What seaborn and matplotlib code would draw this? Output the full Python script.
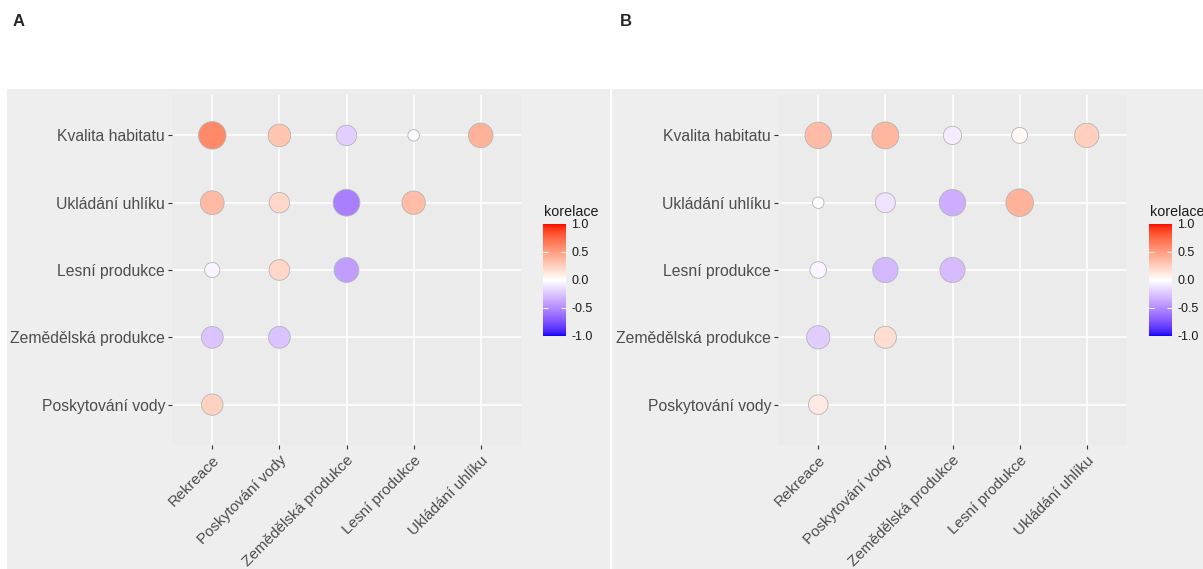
import numpy as np
import pandas as pd
import seaborn as sns
import matplotlib.pyplot as plt
from matplotlib.colors import ListedColormap, Normalize
from matplotlib.cm import ScalarMappable
from matplotlib.patches import Rectangle

# categories (y listed bottom -> top)
x_order = ["Rekreace", "Poskytování vody", "Zemědělská produkce", "Lesní produkce", "Ukládání uhlíku"]
y_order = ["Poskytování vody", "Zemědělská produkce", "Lesní produkce", "Ukládání uhlíku", "Kvalita habitatu"]

pair_x = ["Rekreace", "Poskytování vody", "Zemědělská produkce", "Lesní produkce", "Ukládání uhlíku",
          "Rekreace", "Poskytování vody", "Zemědělská produkce", "Lesní produkce",
          "Rekreace", "Poskytování vody", "Zemědělská produkce",
          "Rekreace", "Poskytování vody",
          "Rekreace"]
pair_y = ["Kvalita habitatu"] * 5 + ["Ukládání uhlíku"] * 4 + ["Lesní produkce"] * 3 + \
         ["Zemědělská produkce"] * 2 + ["Poskytování vody"]

corr_a = [0.60, 0.30, -0.20, -0.02, 0.40,
          0.36, 0.20, -0.55, 0.34,
          -0.05, 0.21, -0.42,
          -0.26, -0.26,
          0.24]
corr_b = [0.35, 0.37, -0.08, 0.04, 0.26,
          0.01, -0.12, -0.35, 0.40,
          -0.05, -0.30, -0.29,
          -0.22, 0.18,
          0.11]

W, H = 1203, 569


def lab_to_rgb(L, a, b):
    fy = (L + 16) / 116
    fx = fy + a / 500
    fz = fy - b / 200

    def finv(t):
        return np.where(t > 6 / 29, t ** 3, 3 * (6 / 29) ** 2 * (t - 4 / 29))

    X, Y, Z = 0.95047 * finv(fx), finv(fy), 1.08883 * finv(fz)
    r = 3.2406 * X - 1.5372 * Y - 0.4986 * Z
    g = -0.9689 * X + 1.8758 * Y + 0.0415 * Z
    bb = 0.0557 * X - 0.2040 * Y + 1.0570 * Z
    rgb = np.clip(np.stack([r, g, bb], axis=-1), 0, 1)
    return np.where(rgb <= 0.0031308, 12.92 * rgb, 1.055 * rgb ** (1 / 2.4) - 0.055)


# blue - white - red, interpolated in Lab like ggplot's gradient2
lab_blue = np.array([32.30, 79.19, -107.86])
lab_white = np.array([100.0, 0.0, 0.0])
lab_red = np.array([53.24, 80.09, 67.20])
t = np.linspace(-1, 1, 257)
labs = np.array([lab_white + (lab_red - lab_white) * v if v >= 0 else lab_white + (lab_blue - lab_white) * (-v) for v in t])
cmap = ListedColormap(lab_to_rgb(labs[:, 0], labs[:, 1], labs[:, 2]))
norm = Normalize(-1, 1)


def gg_sizes(vals, dmin=11.5, dmax=27.5):
    a = np.abs(np.asarray(vals))
    tt = (a - a.min()) / (a.max() - a.min())
    d_pt = (dmin + (dmax - dmin) * np.sqrt(tt)) * 72 / 100
    return dict(zip(a, d_pt ** 2))


sns.set_style("darkgrid", {"axes.facecolor": "#EBEBEB", "grid.color": "white"})
plt.rcParams["font.family"] = ["Liberation Sans", "DejaVu Sans"]

fig = plt.figure(figsize=(W / 100, H / 100), dpi=100)
fig.patch.set_facecolor("white")

panels = [
    ("A", corr_a, 7, 612 - 2 - 7, 172, 543, 13),
    ("B", corr_b, 612, W - 612, 778, 1149, 620),
]

for letter, vals, bg_x, bg_w, ax_x, cb_x, lab_x in panels:
    fig.add_artist(Rectangle((bg_x / W, 0), bg_w / W, (H - 89) / H, transform=fig.transFigure,
                             facecolor="#EEEEEE", edgecolor="none", zorder=-1))
    df = pd.DataFrame({"x": pair_x, "y": pair_y, "corr": vals})
    df["xi"] = df["x"].map({c: i for i, c in enumerate(x_order)})
    df["yi"] = df["y"].map({c: i for i, c in enumerate(y_order)})
    df["abs"] = df["corr"].abs()

    ax = fig.add_axes([ax_x / W, (H - 445) / H, 349 / W, 350 / H])
    sns.scatterplot(data=df, x="xi", y="yi", hue="corr", palette=cmap, hue_norm=norm,
                    size="abs", sizes=gg_sizes(vals), edgecolor="#B5B5B5", linewidth=0.6,
                    legend=False, ax=ax, zorder=3)
    ax.set_xlim(-0.6, 4.6)
    ax.set_ylim(-0.6, 4.6)
    ax.set_xticks(range(5))
    ax.set_yticks(range(5))
    ax.set_xticklabels(x_order, rotation=45, ha="right", va="top", rotation_mode="anchor")
    ax.set_yticklabels(y_order)
    ax.grid(True, color="white", linewidth=1.1)
    ax.set_xlabel("")
    ax.set_ylabel("")
    ax.tick_params(bottom=True, left=True, length=3, width=0.8, color="#333333",
                   labelsize=11.3, labelcolor="#4D4D4D", pad=2)
    ax.tick_params(axis="x", pad=3, labelsize=11)
    for s in ax.spines.values():
        s.set_visible(False)

    cax = fig.add_axes([cb_x / W, (H - 336) / H, 23 / W, 112 / H])
    cb = fig.colorbar(ScalarMappable(norm=norm, cmap=cmap), cax=cax)
    cb.outline.set_visible(False)
    cb.set_ticks([-1, -0.5, 0, 0.5, 1])
    cb.set_ticklabels(["-1.0", "-0.5", "0.0", "0.5", "1.0"])
    cax.tick_params(length=0, labelsize=9, labelcolor="#1A1A1A", pad=4)
    tr = cax.get_yaxis_transform()
    cax.hlines([-0.5, 0, 0.5], 0, 0.2, colors="white", linewidth=0.8, transform=tr)
    cax.hlines([-0.5, 0, 0.5], 0.8, 1, colors="white", linewidth=0.8, transform=tr)
    fig.text((cb_x + 1) / W, 1 - 212 / H, "korelace", ha="left", va="center", fontsize=10.3, color="#1A1A1A")

    fig.text(lab_x / W, 1 - 22 / H, letter, ha="left", va="center", fontsize=12, fontweight="bold")

fig.savefig("out.png", dpi=100)
